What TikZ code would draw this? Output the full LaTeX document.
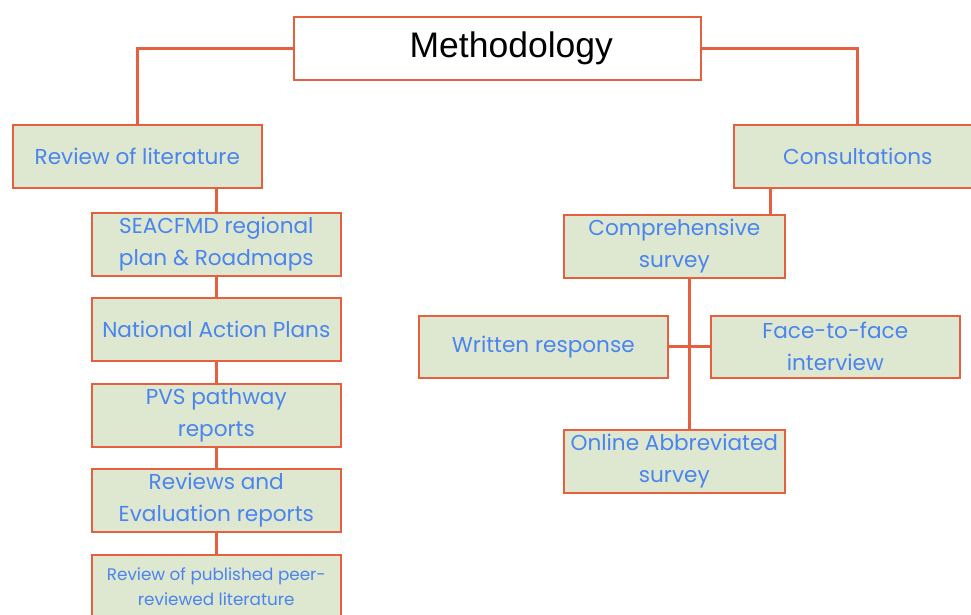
\documentclass[tikz,border=0pt]{standalone}
\usepackage{fontspec}
\setmainfont{Poppins}
\newfontfamily\arialfont{Liberation Sans}
\usetikzlibrary{shadows}
\definecolor{bordred}{HTML}{E5603F}
\definecolor{boxgreen}{HTML}{DEE8D0}
\definecolor{txtblue}{HTML}{4A84EE}
\tikzset{
  gbox/.style={draw=bordred, line width=1.6pt, fill=boxgreen, text=txtblue,
    anchor=north west, align=center, inner sep=1pt,
    font=\fontsize{21.6}{32}\selectfont,
    drop shadow={shadow xshift=1.5pt, shadow yshift=-1.5pt, opacity=0.25, fill=black!60}},
  wbox/.style={draw=bordred, line width=1.6pt, fill=white, anchor=north west,
    font=\arialfont\fontsize{35.5}{40}\selectfont,
    drop shadow={shadow xshift=1.5pt, shadow yshift=-1.5pt, opacity=0.25, fill=black!60}},
  conn/.style={draw=bordred, line width=3pt}
}
\begin{document}
\begin{tikzpicture}[x=1pt,y=-1pt]
\useasboundingbox (0,0) rectangle (971,615);
% title
\node[wbox, minimum width=407pt, minimum height=63pt] (meth) at (293,16) {\hspace*{28pt}Methodology};
% top level
\node[gbox, minimum width=249pt, minimum height=63pt] (rev) at (12,124) {Review of literature};
\node[gbox, minimum width=248pt, minimum height=63pt] (cons) at (733,124) {Consultations};
% left column
\node[gbox, minimum width=249pt, minimum height=63pt] (sea) at (91,212) {SEACFMD regional\\plan \& Roadmaps};
\node[gbox, minimum width=249pt, minimum height=63pt] (nap) at (91,297) {National Action Plans};
\node[gbox, minimum width=249pt, minimum height=63pt] (pvs) at (91,383) {PVS pathway\\reports};
\node[gbox, minimum width=249pt, minimum height=63pt] (eval) at (91,468) {Reviews and\\Evaluation reports};
\node[gbox, minimum width=249pt, minimum height=63pt, font=\fontsize{16.8}{25}\selectfont] (peer) at (91,554) {Review of published peer-\\reviewed literature};
% right
\node[gbox, minimum width=221pt, minimum height=63pt] (comp) at (563,214) {Comprehensive\\survey};
\node[gbox, minimum width=249pt, minimum height=62pt] (writ) at (418,315) {Written response};
\node[gbox, minimum width=249pt, minimum height=62pt] (face) at (710,315) {Face-to-face\\interview};
\node[gbox, minimum width=221pt, minimum height=63pt] (onl) at (563,429) {Online Abbreviated\\survey};
% connectors
\draw[conn] (meth.west) -| (rev.north);
\draw[conn] (meth.east) -| (cons.north);
\draw[conn] (rev.south -| sea.north) -- (sea.north);
\draw[conn] (sea.south) -- (nap.north);
\draw[conn] (nap.south) -- (pvs.north);
\draw[conn] (pvs.south) -- (eval.north);
\draw[conn] (eval.south) -- (peer.north);
\draw[conn] ([xshift=-15pt]comp.north east |- cons.south) -- ([xshift=-15pt]comp.north east);
\draw[conn] ([xshift=15pt]comp.south) -- ([xshift=15pt]comp.south |- onl.north);
\draw[conn] (writ.east) -- (face.west);
\end{tikzpicture}
\end{document}
